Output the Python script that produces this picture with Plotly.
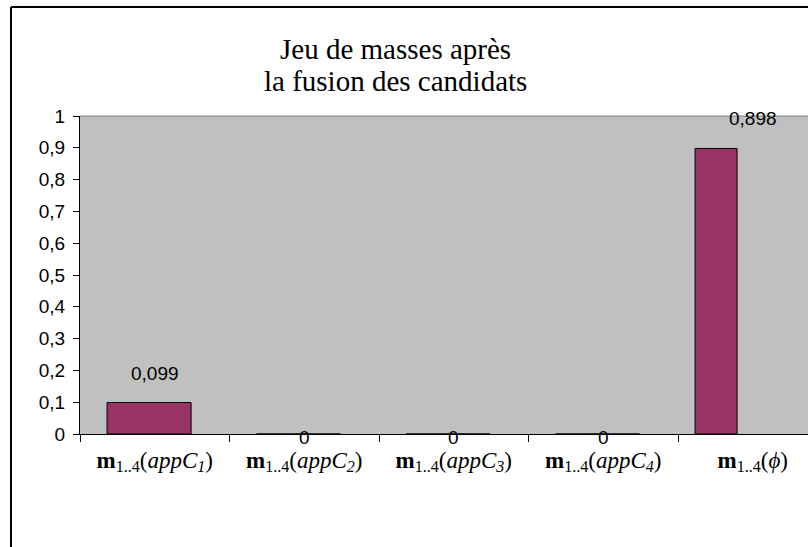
import plotly.graph_objects as go

# Masses after merging the candidates
categories = ["appC1", "appC2", "appC3", "appC4", "phi"]
tick_labels = [
    "<b>m</b><sub>1..4</sub>(<i>appC<sub>1</sub></i>)",
    "<b>m</b><sub>1..4</sub>(<i>appC<sub>2</sub></i>)",
    "<b>m</b><sub>1..4</sub>(<i>appC<sub>3</sub></i>)",
    "<b>m</b><sub>1..4</sub>(<i>appC<sub>4</sub></i>)",
    "<b>m</b><sub>1..4</sub>(<i>ϕ</i>)",
]
masses = [0.099, 0, 0, 0, 0.898]
value_labels = ["0,099", "0", "0", "0", "0,898"]
title_lines = ["Jeu de masses après", "la fusion des candidats"]

# per-bar geometry (category units)
bar_offsets = [-0.319, -0.319, -0.319, -0.319, -0.386]
bar_widths = [0.562, 0.562, 0.562, 0.562, 0.281]
label_shifts = [29, -3, -3, -3, 30]

W, H = 808, 547
ML, MR, MT, MB = 80, 0, 116, 113
pw = W - ML - MR
ph = H - MT - MB


def px_to_paper_y(py):
    return (H - MB - py) / ph


def px_to_paper_x(px):
    return (px - ML) / pw


fig = go.Figure()
fig.add_trace(go.Bar(
    x=categories,
    y=masses,
    offset=bar_offsets,
    width=bar_widths,
    marker=dict(color="#993366", line=dict(color="#000000", width=1)),
    hoverinfo="skip",
))

for c, v, t, s in zip(categories, masses, value_labels, label_shifts):
    fig.add_annotation(
        x=c, y=v, text=t, showarrow=False, yshift=s,
        font=dict(family="Liberation Sans, Arial", size=19, color="#000000"),
    )

# two-line title
for line, cy in zip(title_lines, [49, 81]):
    fig.add_annotation(
        xref="paper", yref="paper",
        x=px_to_paper_x(395), y=px_to_paper_y(cy),
        xanchor="center", yanchor="middle",
        text=line, showarrow=False,
        font=dict(family="Liberation Serif, Times New Roman", size=29, color="#000000"),
    )

# outer chart frame (left and top edges) and plot-area top border
fx = px_to_paper_x(11)
fy = px_to_paper_y(7)
fig.add_shape(type="line", xref="paper", yref="paper", x0=fx, x1=fx, y0=fy, y1=-1,
              line=dict(color="#000000", width=2))
fig.add_shape(type="line", xref="paper", yref="paper", x0=fx, x1=1.5, y0=fy, y1=fy,
              line=dict(color="#000000", width=2))
fig.add_shape(type="line", xref="paper", yref="paper", x0=0, x1=1.5, y0=1, y1=1,
              line=dict(color="#808080", width=1))

fig.update_layout(
    width=W, height=H,
    margin=dict(l=ML, r=MR, t=MT, b=MB, pad=0),
    paper_bgcolor="#ffffff",
    plot_bgcolor="#C0C0C0",
    separators=", ",
    showlegend=False,
    xaxis=dict(
        type="category",
        range=[-0.5, -0.5 + pw / 149.5],
        tickmode="array",
        tickvals=categories,
        ticktext=tick_labels,
        tickson="boundaries",
        ticks="outside", ticklen=7, tickcolor="#000000", tickwidth=1,
        showline=True, linecolor="#000000", linewidth=1,
        showgrid=False, zeroline=False,
        tickfont=dict(family="Liberation Serif, Times New Roman", size=23, color="#000000"),
        ticklabelstandoff=5,
        fixedrange=True,
    ),
    yaxis=dict(
        range=[0, 1],
        tickmode="array",
        tickvals=[0, 0.1, 0.2, 0.3, 0.4, 0.5, 0.6, 0.7, 0.8, 0.9, 1],
        ticktext=["0", "0,1", "0,2", "0,3", "0,4", "0,5", "0,6", "0,7", "0,8", "0,9", "1"],
        ticks="outside", ticklen=6, tickcolor="#000000", tickwidth=1,
        showline=True, linecolor="#000000", linewidth=1,
        showgrid=False, zeroline=False,
        tickfont=dict(family="Liberation Sans, Arial", size=19, color="#000000"),
        ticklabelstandoff=4,
        fixedrange=True,
    ),
)

fig.write_html("out.html", config={"displayModeBar": False})
